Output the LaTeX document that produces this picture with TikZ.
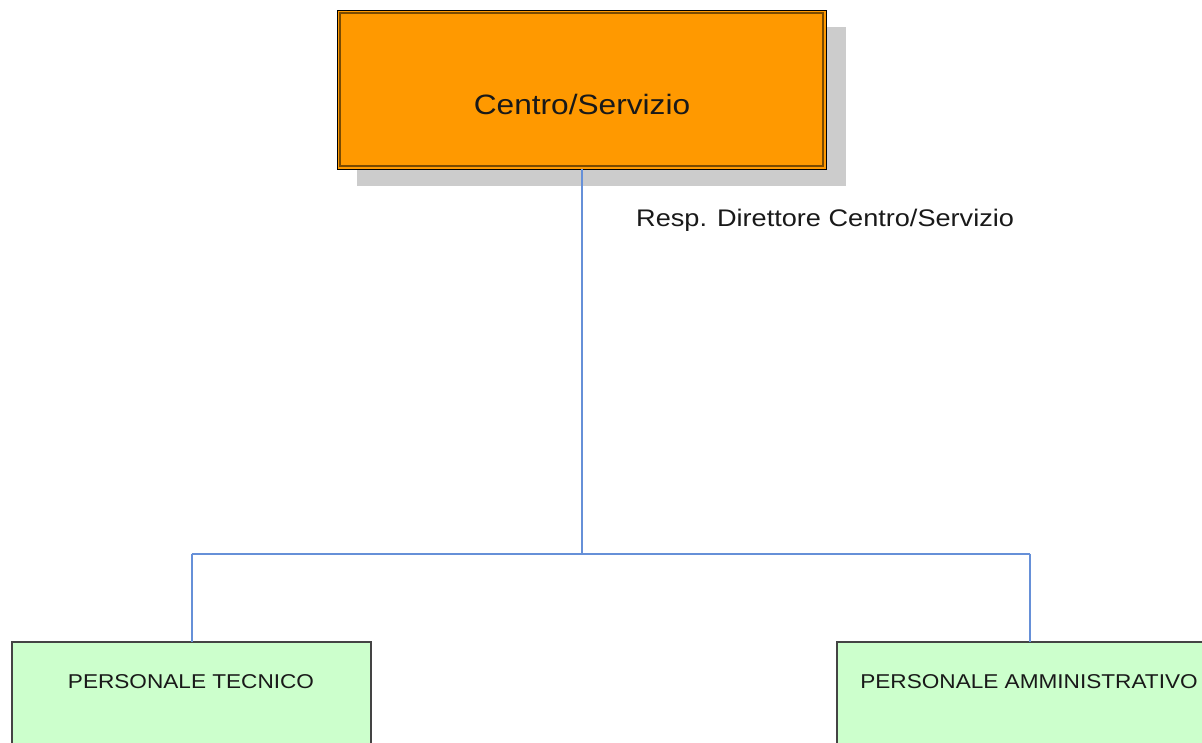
\documentclass[tikz,border=0pt]{standalone}
\usepackage{fontspec}
\setmainfont[FakeStretch=1.13]{Liberation Sans}
\definecolor{boxorange}{HTML}{FF9900}
\definecolor{boxedge}{HTML}{7A4A00}
\definecolor{shadowgray}{HTML}{CCCCCC}
\definecolor{paleGreen}{HTML}{CCFFCC}
\definecolor{linkblue}{HTML}{6690D8}
\definecolor{edgegray}{HTML}{444444}
\tikzset{
  x=1pt, y=-1pt,
  topbox/.style={draw=black, line width=1pt, fill=boxorange, minimum width=489pt, minimum height=159pt, inner sep=0pt, outer sep=0pt},
  shadowbox/.style={fill=shadowgray, draw=none, minimum width=489pt, minimum height=159pt, inner sep=0pt},
  unitbox/.style={draw=edgegray, line width=1.3pt, fill=paleGreen, inner sep=0pt, outer sep=0pt, minimum height=200pt},
  link/.style={draw=linkblue, line width=2pt},
  txt/.style={inner sep=0pt, text=black!90}
}
\begin{document}
\begin{tikzpicture}
\useasboundingbox (0,0) rectangle (1202,742);
% shadow and top box
\node[shadowbox] (shadow) at (601.5,106.5) {};
\node[topbox] (top) at (581.5,89.5) {};
\draw[boxedge, line width=1.2pt] ([xshift=3pt,yshift=-3pt]top.north west) rectangle ([xshift=-3pt,yshift=3pt]top.south east);
\node[txt, font=\fontsize{28}{30}\selectfont] (toptext) at (582,104) {Centro/Servizio};
\node[txt, anchor=west, font=\fontsize{24}{26}\selectfont] (resp) at (636,220) {Resp. Direttore Centro/Servizio};
% bottom boxes
\node[unitbox, minimum width=359pt, anchor=north] (tec) at (191.5,642) {};
\node[unitbox, minimum width=386pt, anchor=north] (amm) at (1030,642) {};
\node[txt, font=\fontsize{20}{22}\selectfont] (tectext) at (191,681.5) {PERSONALE TECNICO};
\node[txt, font=\fontsize{20}{22}\selectfont] (ammtext) at (1029,681.5) {PERSONALE AMMINISTRATIVO};
% connectors
\coordinate (hub) at (581.5,553.5);
\coordinate (lft) at (191.5,553.5);
\coordinate (rgt) at (1030,553.5);
\draw[link] (top.south) -- (hub);
\draw[link] (lft) -- (rgt);
\draw[link] (lft) -- (tec.north);
\draw[link] (rgt) -- (amm.north);
\end{tikzpicture}
\end{document}
